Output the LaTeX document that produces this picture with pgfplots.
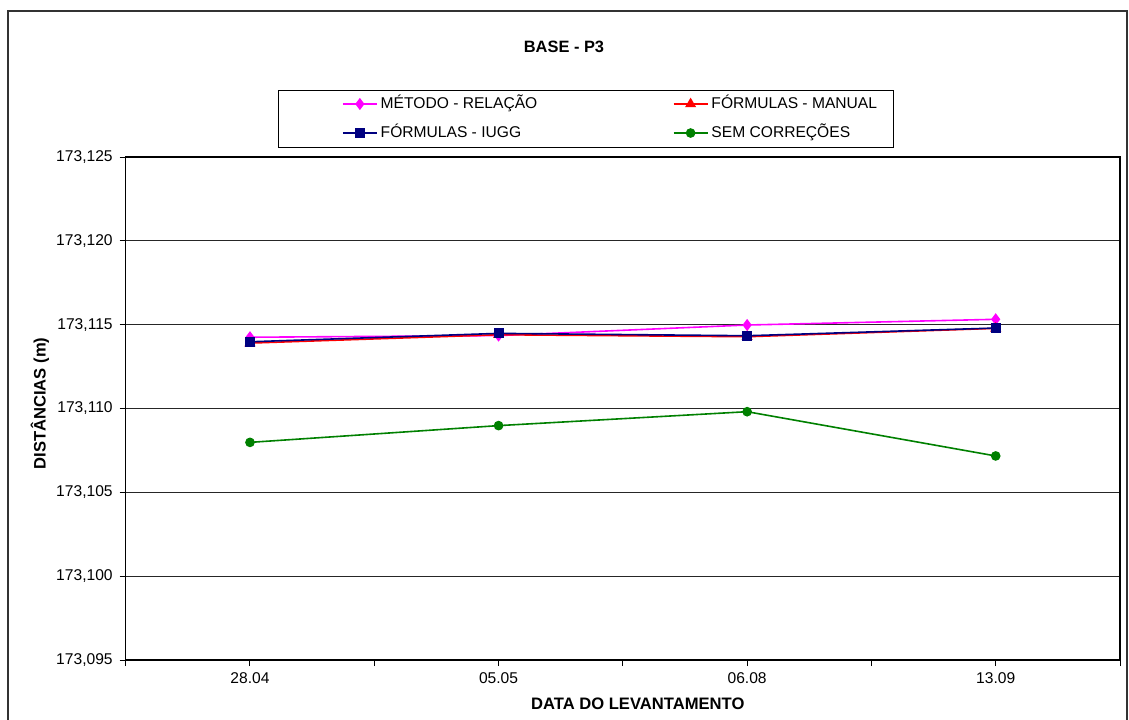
\documentclass[border=0pt]{standalone}
\usepackage{pgfplots}
\pgfplotsset{compat=1.18}
\usepackage{fontspec}
\setmainfont{Liberation Sans}

\definecolor{cmetodo}{HTML}{FF00FF}
\definecolor{cmanual}{HTML}{FF0000}
\definecolor{ciugg}{HTML}{000080}
\definecolor{csem}{HTML}{008000}

\newcommand{\ticksize}{\fontsize{7.8}{9}\selectfont}
\newcommand{\labsize}{\bfseries\fontsize{8.3}{9.8}\selectfont}

\begin{document}
\begin{tikzpicture}[x=1pt,y=1pt]
\useasboundingbox (0,0) rectangle (564.5,-359.5);
% outer chart frame
\draw[line width=1pt, black!80] (4.15,-5.65) rectangle (563.5,-366);
% chart title
\node[font=\bfseries\fontsize{8.2}{9.8}\selectfont] at (282,-23.5) {BASE - P3};
% legend frame
\draw[line width=0.5pt, black] (139,-45) rectangle (446.5,-73.5);

\begin{axis}[
  at={(62.85pt,-330pt)}, anchor=south west,
  scale only axis, width=497.15pt, height=251.5pt,
  xmin=0, xmax=8,
  ymin=173.095, ymax=173.125,
  xtick={0,1,2,3,4,5,6,7,8},
  xticklabels={,28.04,,05.05,,06.08,,13.09,},
  ytick={173.095,173.100,173.105,173.110,173.115,173.120,173.125},
  yticklabel style={/pgf/number format/.cd, fixed, fixed zerofill, precision=3, use comma, 1000 sep={}},
  /pgf/number format/assume math mode=true,
  tick label style={font=\ticksize},
  tick align=outside, tick pos=left,
  major tick length=3pt,
  tick style={black, line width=0.5pt},
  axis line style={black, line width=0.7pt},
  ymajorgrids,
  major grid style={black!85, line width=0.5pt},
  xlabel={DATA DO LEVANTAMENTO},
  ylabel={DISTÂNCIAS (m)},
  xlabel style={font=\labsize, at={(axis description cs:0.515,-0.0875)}, anchor=center},
  ylabel style={font=\labsize, at={(axis description cs:-0.0862,0.51)}, anchor=center, rotate=0},
  legend columns=2,
  legend cell align=left,
  legend style={
    draw=none, fill=none,
    at={(axis description cs:0.21754,1.11928)}, anchor=north west,
    inner sep=0pt, outer sep=0pt,
    font=\ticksize,
    nodes={inner sep=0pt, text height=5.5pt, text depth=1.5pt},
    row sep=7.5pt,
    /tikz/every odd column/.append style={column sep=1.5pt},
  },
  every axis plot/.append style={line width=0.8pt},
  clip=false,
]

\addplot[color=cmetodo, mark=diamond*, mark size=2.4pt, mark options={solid, fill=cmetodo, draw=cmetodo}]
  coordinates {(1,173.11425) (3,173.11435) (5,173.11498) (7,173.11532)};
\addlegendentry{\makebox[146pt][l]{MÉTODO - RELAÇÃO}}

\addplot[color=cmanual, mark=triangle*, mark size=2.4pt, mark options={solid, fill=cmanual, draw=cmanual}]
  coordinates {(1,173.11390) (3,173.11440) (5,173.11428) (7,173.11478)};
\addlegendentry{\makebox[80pt][l]{FÓRMULAS - MANUAL}}

\addplot[color=ciugg, mark=square*, mark size=2.1pt, mark options={solid, fill=ciugg, draw=ciugg}]
  coordinates {(1,173.11398) (3,173.11448) (5,173.11434) (7,173.11480)};
\addlegendentry{\makebox[146pt][l]{FÓRMULAS - IUGG}}

\addplot[color=csem, mark=*, mark size=2pt, mark options={solid, fill=csem, draw=csem}]
  coordinates {(1,173.10798) (3,173.10898) (5,173.10981) (7,173.10717)};
\addlegendentry{\makebox[80pt][l]{SEM CORREÇÕES}}

\end{axis}
\end{tikzpicture}
\end{document}
